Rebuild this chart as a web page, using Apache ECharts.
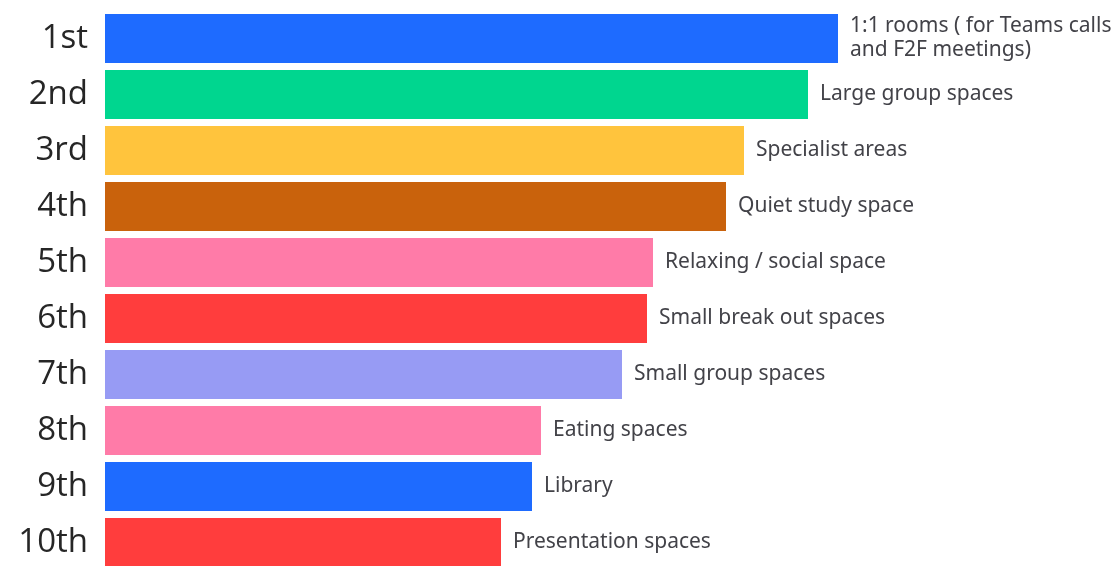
<!DOCTYPE html>
<html>
<head>
<meta charset="utf-8">
<script src="https://cdn.jsdelivr.net/npm/echarts@6/dist/echarts.min.js"></script>
<style>
html,body{margin:0;padding:0;background:#fff;overflow:hidden;}
#c{width:1116px;height:600px;}
</style>
</head>
<body>
<div id="c"></div>
<script>
const ranks = ['1st','2nd','3rd','4th','5th','6th','7th','8th','9th','10th'];
const spaces = ['1:1 rooms ( for Teams calls\nand F2F meetings)','Large group spaces','Specialist areas','Quiet study space','Relaxing / social space','Small break out spaces','Small group spaces','Eating spaces','Library','Presentation spaces'];
const scores = [733,703,639,621,548,542,517,436,427,396];
const colors = ['#1e6bff','#00d68f','#ffc43d','#c9620c','#ff7ba8','#ff3d3d','#979bf4','#ff7ba8','#1e6bff','#ff3d3d'];

const chart = echarts.init(document.getElementById('c'));
chart.setOption({
  animation:false,
  grid:{left:105, top:10.5, width:1011, height:560},
  xAxis:{type:'value', min:0, max:1011, show:false},
  yAxis:{type:'category', data:ranks, inverse:true,
    axisLine:{show:false}, axisTick:{show:false},
    axisLabel:{fontSize:33, color:'#262626', fontFamily:'Open Sans', fontWeight:500, margin:17}},
  series:[{
    type:'bar', barWidth:49,
    data:scores.map((v,i)=>({value:v, itemStyle:{color:colors[i]}})),
    label:{show:true, position:'right', distance:12, fontSize:21, color:'#424248',
      fontFamily:'Noto Sans', lineHeight:24,
      formatter:p=>spaces[p.dataIndex]}
  }]
});
</script>
</body>
</html>
